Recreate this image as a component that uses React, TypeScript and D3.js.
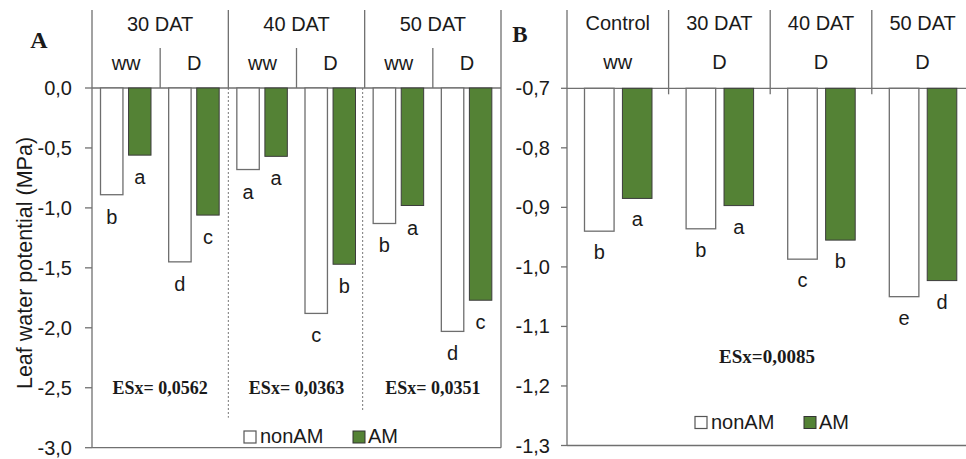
import React from "react";
import * as d3 from "d3";

// ---------- Data ----------
const groupsA = ["30 DAT", "40 DAT", "50 DAT"];
const subA = ["ww", "D", "ww", "D", "ww", "D"];
const nonAMA = [-0.89, -1.45, -0.68, -1.88, -1.13, -2.03];
const amA = [-0.56, -1.06, -0.57, -1.47, -0.98, -1.77];
const lettersNonAMA = ["b", "d", "a", "c", "b", "d"];
const lettersAMA = ["a", "c", "a", "b", "a", "c"];
const esxA = ["ESx= 0,0562", "ESx= 0,0363", "ESx= 0,0351"];
const ticksA = [0, -0.5, -1.0, -1.5, -2.0, -2.5, -3.0];

const groupsB = ["Control", "30 DAT", "40 DAT", "50 DAT"];
const subB = ["ww", "D", "D", "D"];
const nonAMB = [-0.94, -0.936, -0.987, -1.05];
const amB = [-0.885, -0.897, -0.955, -1.023];
const lettersNonAMB = ["b", "b", "c", "e"];
const lettersAMB = ["a", "a", "b", "d"];
const esxB = "ESx=0,0085";
const ticksB = [-0.7, -0.8, -0.9, -1.0, -1.1, -1.2, -1.3];

const series = ["nonAM", "AM"];
const yTitle = "Leaf water potential (MPa)";

// ---------- Style ----------
const GREEN = "#548235";
const LINE = "#707070";
const TEXT = "#1a1a1a";
const SANS = "'Liberation Sans', Arial, sans-serif";
const SERIF = "'Liberation Serif', 'Times New Roman', serif";

const loc = d3.formatLocale({
  decimal: ",",
  thousands: ".",
  grouping: [3],
  currency: ["", ""],
  minus: "-",
});
const fmt = loc.format(".1f");

function Bars({ x, inner, y, base, non, am, lNon, lAm, off }: any) {
  return (
    <g>
      {non.map((v: number, i: number) => {
        const x0 = x(i) + inner("nonAM");
        return (
          <g key={"n" + i}>
            <rect x={x0} y={y(base)} width={inner.bandwidth()} height={y(v) - y(base)} fill="#fff" stroke="#6e6e6e" strokeWidth={1.3} />
            <text x={x0 + inner.bandwidth() / 2} y={y(v) + off} textAnchor="middle" fontFamily={SANS} fontSize={20} fill={TEXT}>{lNon[i]}</text>
          </g>
        );
      })}
      {am.map((v: number, i: number) => {
        const x0 = x(i) + inner("AM");
        return (
          <g key={"a" + i}>
            <rect x={x0} y={y(base)} width={inner.bandwidth()} height={y(v) - y(base)} fill={GREEN} stroke="#3c3c3c" strokeWidth={1} />
            <text x={x0 + inner.bandwidth() / 2} y={y(v) + off} textAnchor="middle" fontFamily={SANS} fontSize={20} fill={TEXT}>{lAm[i]}</text>
          </g>
        );
      })}
    </g>
  );
}

function Legend({ x, y }: { x: number; y: number }) {
  return (
    <g fontFamily={SANS} fontSize={20} fill={TEXT}>
      <rect x={x} y={y - 12} width={12} height={12} fill="#fff" stroke="#555" strokeWidth={1.2} />
      <text x={x + 16} y={y}>nonAM</text>
      <rect x={x + 109} y={y - 12} width={12} height={12} fill={GREEN} stroke="#333" strokeWidth={1} />
      <text x={x + 124} y={y}>AM</text>
    </g>
  );
}

export default function App() {
  // Panel A scales
  const axA = 92, rightA = 501, topA = 88, botA = 447.7;
  const yA = d3.scaleLinear().domain([0, -3]).range([topA, botA]);
  const xA = d3.scaleBand<number>().domain(d3.range(subA.length)).range([axA, rightA]);
  const gA = d3.scaleBand<string>().domain(groupsA).range([axA, rightA]);
  const innerA = d3.scaleBand<string>().domain(series).range([8.5, 59]).paddingInner(0.2);

  // Panel B scales
  const axB = 567, topB = 88.3, botB = 445.5;
  const gB = d3.scaleBand<string>().domain(groupsB).range([axB, axB + 4 * 101.6]);
  const xB = d3.scaleBand<number>().domain(d3.range(subB.length)).range([axB, axB + 4 * 101.6]);
  const yB = d3.scaleLinear().domain([-0.7, -1.3]).range([topB, botB]);
  const innerB = d3.scaleBand<string>().domain(series).range([17.5, 85]).paddingInner(0.22);

  return (
    <svg width={966} height={459} style={{ position: "absolute", left: 0, top: 0, background: "#fff" }}>
      <rect width={966} height={459} fill="#fff" />
      {/* ---------------- Panel A ---------------- */}
      <text x={39} y={48} textAnchor="middle" fontFamily={SERIF} fontWeight="bold" fontSize={24} fill={TEXT}>A</text>
      <text transform="translate(32,263) rotate(-90)" textAnchor="middle" fontFamily={SANS} fontSize={21.5} fill={TEXT}>{yTitle}</text>
      {/* header lines */}
      <line x1={axA} x2={axA} y1={10} y2={botA} stroke={LINE} strokeWidth={1.3} />
      <line x1={rightA} x2={rightA} y1={10} y2={botA} stroke={LINE} strokeWidth={1.3} />
      {groupsA.slice(1).map((g) => (
        <g key={g}>
          <line x1={gA(g)!} x2={gA(g)!} y1={10} y2={topA} stroke={LINE} strokeWidth={1.3} />
        </g>
      ))}
      <line x1={gA("40 DAT")!} x2={gA("40 DAT")!} y1={topA} y2={yA(-2.75)} stroke="#777" strokeWidth={1} strokeDasharray="2,2" />
      <line x1={gA("50 DAT")! - 2} x2={gA("50 DAT")! - 2} y1={topA} y2={yA(-2.7)} stroke="#777" strokeWidth={1} strokeDasharray="2,2" />
      {subA.map((s, i) => (
        <g key={"s" + i}>
          {i % 2 === 1 && <line x1={xA(i)!} x2={xA(i)!} y1={48} y2={topA} stroke={LINE} strokeWidth={1.3} />}
          <text x={xA(i)! + xA.bandwidth() / 2} y={70} textAnchor="middle" fontFamily={SANS} fontSize={20} fill={TEXT}>{s}</text>
        </g>
      ))}
      {groupsA.map((g) => (
        <text key={g} x={gA(g)! + gA.bandwidth() / 2} y={30.5} textAnchor="middle" fontFamily={SANS} fontSize={20} fill={TEXT}>{g}</text>
      ))}
      {/* y ticks */}
      {ticksA.map((t) => (
        <g key={t}>
          <line x1={axA - 7} x2={axA} y1={yA(t)} y2={yA(t)} stroke={LINE} strokeWidth={1.3} />
          <text x={72} y={yA(t)} dy="0.35em" textAnchor="end" fontFamily={SANS} fontSize={20} fill={TEXT}>{fmt(t)}</text>
        </g>
      ))}
      <line x1={axA} x2={rightA} y1={topA} y2={topA} stroke={LINE} strokeWidth={1.3} />
      <line x1={axA} x2={rightA} y1={botA} y2={botA} stroke={LINE} strokeWidth={1.3} />
      <Bars x={(i: number) => xA(i)!} inner={innerA} y={yA} base={0} non={nonAMA} am={amA} lNon={lettersNonAMA} lAm={lettersAMA} off={29} />
      {groupsA.map((g, i) => (
        <text key={"e" + g} x={gA(g)! + gA.bandwidth() / 2} y={yA(-2.55)} textAnchor="middle" fontFamily={SERIF} fontWeight="bold" fontSize={18} fill={TEXT}>{esxA[i]}</text>
      ))}
      <Legend x={244} y={443} />

      {/* ---------------- Panel B ---------------- */}
      <text x={520} y={42} textAnchor="middle" fontFamily={SERIF} fontWeight="bold" fontSize={23} fill={TEXT}>B</text>
      <line x1={axB} x2={axB} y1={10} y2={botB} stroke={LINE} strokeWidth={1.3} />
      {groupsB.slice(1).map((g) => (
        <line key={g} x1={gB(g)!} x2={gB(g)!} y1={10} y2={topB + 6} stroke={LINE} strokeWidth={1.3} />
      ))}
      {groupsB.map((g, i) => (
        <g key={"hb" + g}>
          <text x={gB(g)! + gB.bandwidth() / 2} y={30} textAnchor="middle" fontFamily={SANS} fontSize={20} fill={TEXT}>{g}</text>
          <text x={gB(g)! + gB.bandwidth() / 2} y={68.5} textAnchor="middle" fontFamily={SANS} fontSize={20} fill={TEXT}>{subB[i]}</text>
        </g>
      ))}
      {ticksB.map((t) => (
        <g key={t}>
          <line x1={axB - 6} x2={axB} y1={yB(t)} y2={yB(t)} stroke={LINE} strokeWidth={1.3} />
          <text x={550} y={yB(t)} dy="0.35em" textAnchor="end" fontFamily={SANS} fontSize={20} fill={TEXT}>{fmt(t)}</text>
        </g>
      ))}
      <line x1={axB} x2={966} y1={topB} y2={topB} stroke={LINE} strokeWidth={1.3} />
      <line x1={axB} x2={966} y1={botB} y2={botB} stroke={LINE} strokeWidth={1.3} />
      <Bars x={(i: number) => xB(i)!} inner={innerB} y={yB} base={-0.7} non={nonAMB} am={amB} lNon={lettersNonAMB} lAm={lettersAMB} off={28} />
      <text x={767} y={yB(-1.15)} dy="0.35em" textAnchor="middle" fontFamily={SERIF} fontWeight="bold" fontSize={19} fill={TEXT}>{esxB}</text>
      <Legend x={695} y={428.5} />
    </svg>
  );
}
